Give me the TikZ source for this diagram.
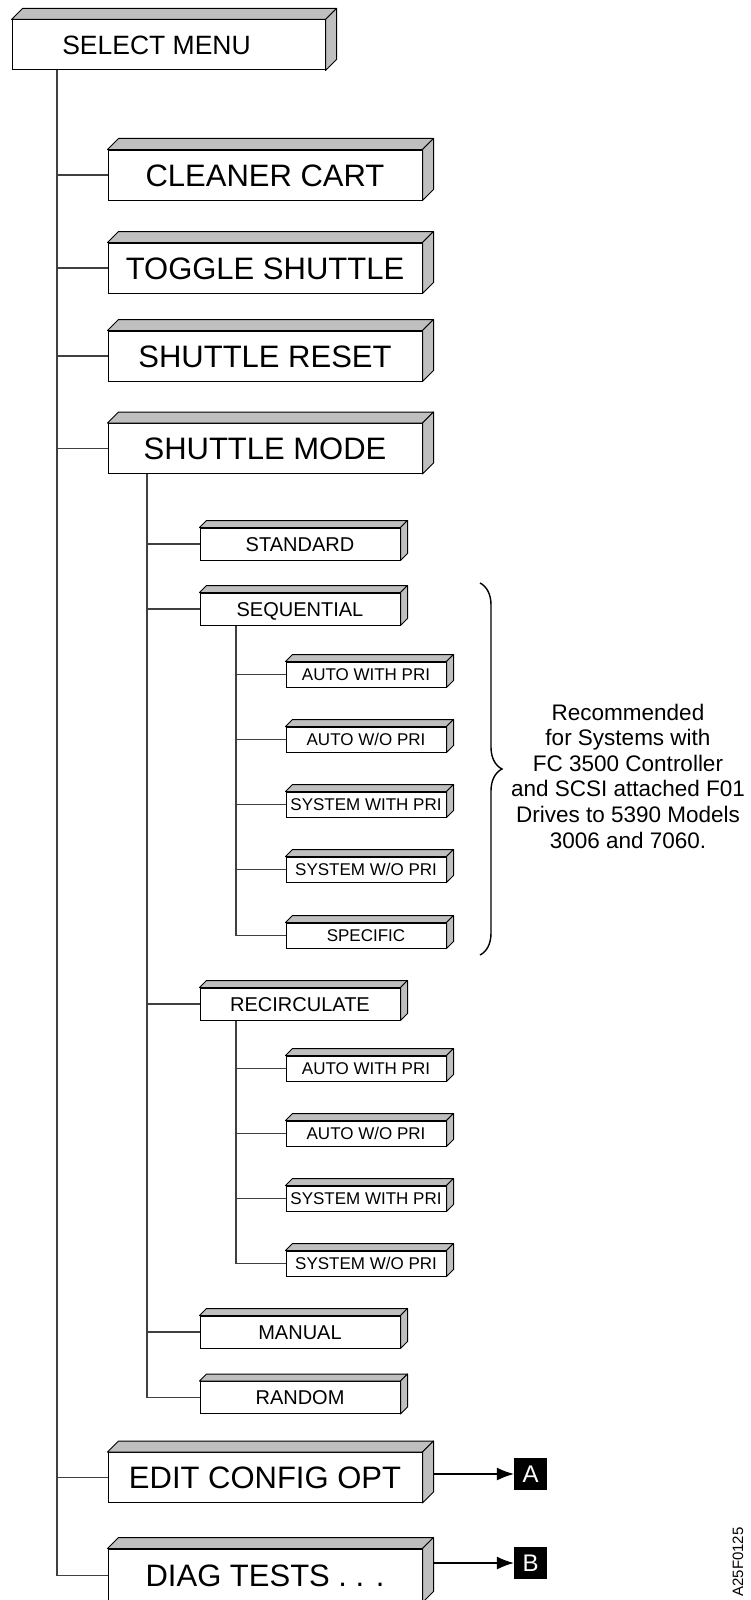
\documentclass[tikz,border=0pt]{standalone}
\usepackage{fontspec}
\setmainfont{Liberation Sans}
\usetikzlibrary{arrows.meta,positioning,calc,decorations.pathreplacing}

% shaded top and right faces of a box node: name, depth
\newcommand{\boxsides}[2]{%
  \filldraw[sideface] (#1.north west) -- ++(#2,-#2) -- ($(#1.north east)+(#2,-#2)$) -- (#1.north east) -- cycle;
  \filldraw[sideface] (#1.north east) -- ++(#2,-#2) -- ($(#1.south east)+(#2,-#2)$) -- (#1.south east) -- cycle;}

\tikzset{
  frontbox/.style={draw=black, fill=white, line width=1pt, inner sep=0pt, text depth=0pt},
  bigbox/.style={frontbox, minimum width=314pt, minimum height=50pt, text height=22.3pt, font=\fontsize{31}{36}\selectfont},
  midbox/.style={frontbox, minimum width=200pt, minimum height=32pt, text height=14.4pt, font=\fontsize{20}{24}\selectfont},
  smallbox/.style={frontbox, minimum width=160pt, minimum height=25pt, text height=12.2pt, font=\fontsize{17}{20}\selectfont},
  sideface/.style={draw=black, fill=black!25, line width=1pt, line join=round},
  link/.style={draw=black!75, line width=1.1pt},
  pointer/.style={draw=black, line width=1.1pt, -{Latex[length=17pt,width=13pt]}},
  reftag/.style={fill=black, text=white, minimum width=33pt, minimum height=32pt, inner sep=0pt, text height=17pt, text depth=0pt, font=\fontsize{24}{28}\selectfont},
  notetext/.style={align=center, font=\fontsize{22.5}{25.6}\selectfont}
}

\begin{document}
\begin{tikzpicture}[x=1pt,y=-1pt]
  \useasboundingbox (0,0) rectangle (751,1600);
  % main menu
  \node[bigbox, minimum width=313pt, text height=19.1pt, font=\fontsize{26.5}{30}\selectfont] (sel) at (168.5,45) {SELECT MENU\hspace*{24pt}};
  \node[bigbox] (cart) at (265,175) {CLEANER CART};
  \node[bigbox] (toggle) at (265,268) {TOGGLE SHUTTLE};
  \node[bigbox] (reset) at (265,356) {SHUTTLE RESET};
  \node[bigbox] (mode) at (265,448.5) {SHUTTLE MODE};
  \node[bigbox] (edit) at (265,1477.5) {EDIT CONFIG OPT};
  \node[bigbox, minimum height=53pt] (diag) at (265,1575.5) {DIAG TESTS . . .};
  % shuttle modes
  \node[midbox] (std) at (300,544) {STANDARD};
  \node[midbox] (seq) at (300,609) {SEQUENTIAL};
  \node[midbox] (rec) at (300,1004) {RECIRCULATE};
  \node[midbox] (man) at (300,1332) {MANUAL};
  \node[midbox] (rnd) at (300,1397.5) {RANDOM};
  % sequential options
  \node[smallbox] (seq1) at (366,674.5) {AUTO WITH PRI};
  \node[smallbox] (seq2) at (366,739.5) {AUTO W/O PRI};
  \node[smallbox] (seq3) at (366,804.5) {SYSTEM WITH PRI};
  \node[smallbox] (seq4) at (366,869.5) {SYSTEM W/O PRI};
  \node[smallbox] (seq5) at (366,935.5) {SPECIFIC};
  % recirculate options
  \node[smallbox] (rec1) at (366,1068.5) {AUTO WITH PRI};
  \node[smallbox] (rec2) at (366,1133.5) {AUTO W/O PRI};
  \node[smallbox] (rec3) at (366,1198.5) {SYSTEM WITH PRI};
  \node[smallbox] (rec4) at (366,1263.5) {SYSTEM W/O PRI};
  % 3d faces
  \foreach \n in {sel,cart,toggle,reset,mode,edit,diag} {\boxsides{\n}{11}}
  \foreach \n in {std,seq,rec,man,rnd,seq1,seq2,seq3,seq4,seq5,rec1,rec2,rec3,rec4} {\boxsides{\n}{7}}
  % tree lines
  \coordinate (tk) at (57,0);
  \coordinate (sk) at (147,0);
  \coordinate (qk) at (236,0);
  \draw[link] (tk |- sel.south) |- (diag.west);
  \foreach \n in {cart,toggle,reset,mode,edit} \draw[link] (tk |- \n.west) -- (\n.west);
  \draw[link] (sk |- mode.south) |- (rnd.west);
  \foreach \n in {std,seq,rec,man} \draw[link] (sk |- \n.west) -- (\n.west);
  \draw[link] (qk |- seq.south) |- (seq5.west);
  \foreach \i in {1,...,4} \draw[link] (qk |- seq\i.west) -- (seq\i.west);
  \draw[link] (qk |- rec.south) |- (rec4.west);
  \foreach \i in {1,...,3} \draw[link] (qk |- rec\i.west) -- (rec\i.west);
  % brace and note
  \coordinate (bt) at (480,583);
  \coordinate (bb) at (480,955);
  \draw[decorate, decoration={brace, amplitude=22pt}, line width=1.4pt] (bt) -- (bb);
  \node[notetext] (note) at (628,776) {Recommended\\for Systems with\\FC 3500 Controller\\and SCSI attached F01\\Drives to 5390 Models\\3006 and 7060.};
  % off-page references
  \node[reftag] (ta) at (530.5,1474) {A};
  \node[reftag] (tb) at (530.5,1563) {B};
  \draw[pointer] ($(edit.east |- ta.west)+(11,0)$) -- (ta.west);
  \draw[pointer] ($(diag.east |- tb.west)+(11,0)$) -- (tb.west);
  \node[rotate=90, font=\fontsize{15}{18}\selectfont] (figid) at (738,1562) {A25F0125};
\end{tikzpicture}
\end{document}
